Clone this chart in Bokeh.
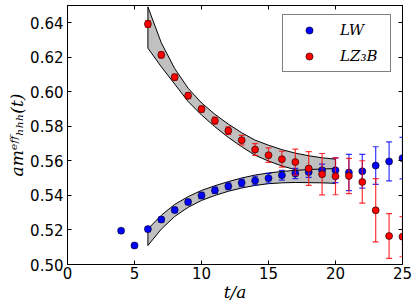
from bokeh.plotting import figure
from bokeh.models import (ColumnDataSource, FixedTicker, LinearAxis, PrintfTickFormatter,
                          Legend, LegendItem, Range1d)
from bokeh.embed import file_html
from bokeh.resources import INLINE

# ---------------- data ----------------
t_lw = list(range(4, 26))
m_lw = [0.5196, 0.5110, 0.5205, 0.5260, 0.5316, 0.5362, 0.5400, 0.5430, 0.5453, 0.5473, 0.5486,
        0.5500, 0.5517, 0.5527, 0.5535, 0.5546, 0.5546, 0.5533, 0.5540, 0.5573, 0.5597, 0.5616]
e_lw = [0.0012, 0.0012, 0.0015, 0.0015, 0.0015, 0.0015, 0.0018, 0.0018, 0.0020, 0.0022, 0.0025,
        0.0028, 0.0028, 0.0030, 0.0030, 0.0035, 0.0072, 0.0105, 0.0098, 0.0109, 0.0113, 0.0120]

t_lz = list(range(6, 26))
m_lz = [0.6393, 0.6214, 0.6085, 0.5978, 0.5900, 0.5833, 0.5775, 0.5720, 0.5666, 0.5633,
        0.5610, 0.5593, 0.5556, 0.5523, 0.5511, 0.5513, 0.5478, 0.5314, 0.5165, 0.5161]
e_lz = [0.0020, 0.0018, 0.0018, 0.0018, 0.0018, 0.0020, 0.0022, 0.0028, 0.0034, 0.0042,
        0.0046, 0.0075, 0.0098, 0.0120, 0.0107, 0.0102, 0.0123, 0.0183, 0.0130, 0.0116]

# fit bands (lower / upper edges)
t_band = list(range(6, 21))
lz_band_lo = [0.6253, 0.6145, 0.6045, 0.5944, 0.5866, 0.5798, 0.5736, 0.5682, 0.5633, 0.5599,
              0.5571, 0.5549, 0.5530, 0.5516, 0.5506]
lz_band_hi = [0.6492, 0.6284, 0.6135, 0.6021, 0.5936, 0.5870, 0.5813, 0.5763, 0.5720, 0.5691,
              0.5665, 0.5645, 0.5630, 0.5618, 0.5610]
lw_band_lo = [0.5110, 0.5205, 0.5278, 0.5331, 0.5371, 0.5400, 0.5424, 0.5443, 0.5458, 0.5468,
              0.5473, 0.5475, 0.5474, 0.5473, 0.5470]
lw_band_hi = [0.5206, 0.5285, 0.5348, 0.5393, 0.5429, 0.5456, 0.5480, 0.5501, 0.5518, 0.5530,
              0.5539, 0.5545, 0.5550, 0.5553, 0.5556]

x_ticks = [0, 5, 10, 15, 20, 25]
y_ticks = [0.50, 0.52, 0.54, 0.56, 0.58, 0.60, 0.62, 0.64]
label_lw = "LW"
label_lz = "LZ\u2083B"
x_title = "t/a"
y_title = "am\u1d49\u1da0\u1da0\u2095\u2095\u2095(t)"

# ---------------- layout ----------------
W, H = 415, 307
BL, BR, BT, BB = 67, 13, 5, 43
X0, X1, Y0, Y1 = 0, 25, 0.50, 0.65
fw, fh = W - BL - BR, H - BT - BB
FL, FB = BL, BT + fh  # frame left / bottom in page pixels

p = figure(width=W, height=H, x_range=Range1d(X0, X1), y_range=Range1d(Y0, Y1),
           output_backend="svg", toolbar_location=None,
           min_border_left=BL, min_border_right=BR, min_border_top=BT, min_border_bottom=BB)
p.xgrid.grid_line_color = None
p.ygrid.grid_line_color = None
p.outline_line_color = "black"
p.background_fill_color = "white"
p.border_fill_color = "white"

bottom_axis = p.below[0]
left_axis = p.left[0]
bottom_axis.ticker = FixedTicker(ticks=x_ticks)
left_axis.ticker = FixedTicker(ticks=y_ticks)
left_axis.formatter = PrintfTickFormatter(format="%.2f")

top_axis = LinearAxis(ticker=FixedTicker(ticks=x_ticks))
right_axis = LinearAxis(ticker=FixedTicker(ticks=y_ticks))
for ax in (top_axis, right_axis):
    ax.major_label_text_font_size = "0px"
    ax.major_label_text_alpha = 0
    ax.major_label_standoff = 0
p.add_layout(top_axis, "above")
p.add_layout(right_axis, "right")

for ax in (bottom_axis, left_axis, top_axis, right_axis):
    ax.axis_line_color = "black"
    ax.major_tick_line_color = "black"
    ax.major_tick_in = 4
    ax.major_tick_out = 0
    ax.minor_tick_line_color = None
for ax in (bottom_axis, left_axis):
    ax.major_label_text_font = "DejaVu Sans"
    ax.major_label_text_font_size = "15px"
    ax.major_label_text_color = "black"
    ax.axis_label_text_font = "DejaVu Serif"
    ax.axis_label_text_font_style = "italic"
    ax.axis_label_text_font_size = "17px"
    ax.axis_label_text_color = "black"
    ax.axis_label_standoff = 0
bottom_axis.major_label_standoff = 2
left_axis.major_label_standoff = 4
bottom_axis.axis_label = x_title
left_axis.axis_label = y_title

# ---------------- bands ----------------
for lo, hi in ((lz_band_lo, lz_band_hi), (lw_band_lo, lw_band_hi)):
    p.patch(x=t_band + t_band[::-1], y=lo + hi[::-1], fill_color="#c0c0c0",
            line_color="black", line_width=1)

# ---------------- points with error bars ----------------
renderers = {}
for name, t, m, e, col in (("lw", t_lw, m_lw, e_lw, "#0000ff"), ("lz", t_lz, m_lz, e_lz, "#ff0000")):
    src = ColumnDataSource(dict(t=t, m=m,
                                lo=[a - b for a, b in zip(m, e)],
                                up=[a + b for a, b in zip(m, e)]))
    p.segment(x0="t", y0="lo", x1="t", y1="up", source=src, line_color=col,
              line_width=1.2, line_alpha=0.8)
    p.scatter(x="t", y="lo", source=src, marker="dash", size=6, line_color=col,
              line_width=1.2, line_alpha=0.8)
    p.scatter(x="t", y="up", source=src, marker="dash", size=6, line_color=col,
              line_width=1.2, line_alpha=0.8)
    renderers[name] = p.scatter(x="t", y="m", source=src, size=7, fill_color=col,
                                line_color="black", line_width=0.6)

# legend box: page x 282..392, bottom at page y 72
legend = Legend(items=[LegendItem(label=label_lw, renderers=[renderers["lw"]]),
                       LegendItem(label=label_lz, renderers=[renderers["lz"]])],
                location=(282 - FL, FB - 72), border_line_color="black", border_line_width=1,
                background_fill_color="white", background_fill_alpha=1.0,
                padding=6, spacing=8, glyph_width=40, glyph_height=18, label_height=18,
                label_width=44, label_standoff=11, margin=0,
                label_text_font="DejaVu Serif", label_text_font_style="italic",
                label_text_font_size="15px", label_text_color="black")
p.add_layout(legend)

open("out.html", "w").write(file_html(p, INLINE))
